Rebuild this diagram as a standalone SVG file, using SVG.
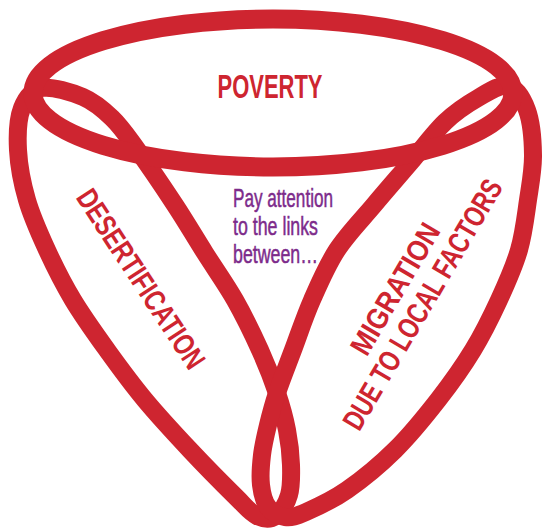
<svg xmlns="http://www.w3.org/2000/svg" width="542" height="529" viewBox="0 0 542 529">
<style>
.band{fill:none;stroke:#CE2530;stroke-linejoin:round}
.lbl{font-family:"Liberation Sans","DejaVu Sans",sans-serif;font-weight:bold;fill:#CE2530;text-anchor:middle}
.note{font-family:"Liberation Sans","DejaVu Sans",sans-serif;font-size:25px;fill:#7D2B8B;stroke:#7D2B8B;stroke-width:0.5}
</style>
<rect width="542" height="529" fill="#ffffff"/>
<g id="desertification">
<path class="band" stroke-width="18" d="M42,88 C52.17,86.17 71.33,92 83,97 C94.67,102 103.17,109.5 112,118 C120.83,126.5 125.5,133.5 136,148 C146.5,162.5 163.5,187.5 175,205 C186.5,222.5 195,237.17 205,253 C215,268.83 225.83,283.83 235,300 C244.17,316.17 253,334.5 260,350 C267,365.5 272.5,379.67 277,393 C281.5,406.33 284.67,418 287,430 C289.33,442 290.67,454.17 291,465 C291.33,475.83 291.5,486.5 289,495 C286.5,503.5 281.33,512.5 276,516 C270.67,519.5 263.67,519.17 257,516 C250.33,512.83 247.17,508 236,497 C224.83,486 205.17,466.17 190,450 C174.83,433.83 158.83,416.67 145,400 C131.17,383.33 119,366.67 107,350 C95,333.33 83,316.67 73,300 C63,283.33 54.67,266.67 47,250 C39.33,233.33 31.83,216.67 27,200 C22.17,183.33 18.83,165.33 18,150 C17.17,134.67 18,118.33 22,108 C26,97.67 31.83,89.83 42,88 Z"/>
<text class="lbl" font-size="30" textLength="208" lengthAdjust="spacingAndGlyphs" x="0" y="11" transform="translate(141.5,278.5) rotate(56.7)">DESERTIFICATION</text>
</g>
<g id="migration">
<path class="band" stroke-width="18" d="M508,86 C516.17,88 522.83,98.5 527,110 C531.17,121.5 532.83,140 533,155 C533.17,170 530.33,184.17 528,200 C525.67,215.83 523.83,233.33 519,250 C514.17,266.67 506.67,283.33 499,300 C491.33,316.67 483.17,333.33 473,350 C462.83,366.67 451,383.33 438,400 C425,416.67 410.17,435 395,450 C379.83,465 361.83,479.67 347,490 C332.17,500.33 316.33,507.5 306,512 C295.67,516.5 291.33,517.83 285,517 C278.67,516.17 272,512.33 268,507 C264,501.67 262,493.67 261,485 C260,476.33 260.83,465 262,455 C263.17,445 265.5,435.33 268,425 C270.5,414.67 272.83,405.5 277,393 C281.17,380.5 287.17,365.5 293,350 C298.83,334.5 304.67,316.67 312,300 C319.33,283.33 326.67,265.83 337,250 C347.33,234.17 361.83,219.5 374,205 C386.17,190.5 398.17,176.83 410,163 C421.83,149.17 433.67,132.83 445,122 C456.33,111.17 467.5,104 478,98 C488.5,92 499.83,84 508,86 Z"/>
<text class="lbl" font-size="30" textLength="147" lengthAdjust="spacingAndGlyphs" x="0" y="11" transform="translate(394.5,288.5) rotate(-59.5)">MIGRATION</text>
<text class="lbl" font-size="30" textLength="285" lengthAdjust="spacingAndGlyphs" x="0" y="11" transform="translate(422,304) rotate(-59.5)">DUE TO LOCAL FACTORS</text>
</g>
<g id="poverty">
<ellipse class="band" stroke-width="19" cx="273" cy="93" rx="240" ry="74"/>
<text class="lbl" font-size="34" textLength="105" lengthAdjust="spacingAndGlyphs" x="270" y="98">POVERTY</text>
</g>
<g id="note">
<text class="note" x="233" y="207" textLength="100" lengthAdjust="spacingAndGlyphs">Pay attention</text>
<text class="note" x="233" y="235" textLength="85" lengthAdjust="spacingAndGlyphs">to the links</text>
<text class="note" x="233" y="263" textLength="85" lengthAdjust="spacingAndGlyphs">between…</text>
</g>
<g id="connectors"></g>
</svg>
